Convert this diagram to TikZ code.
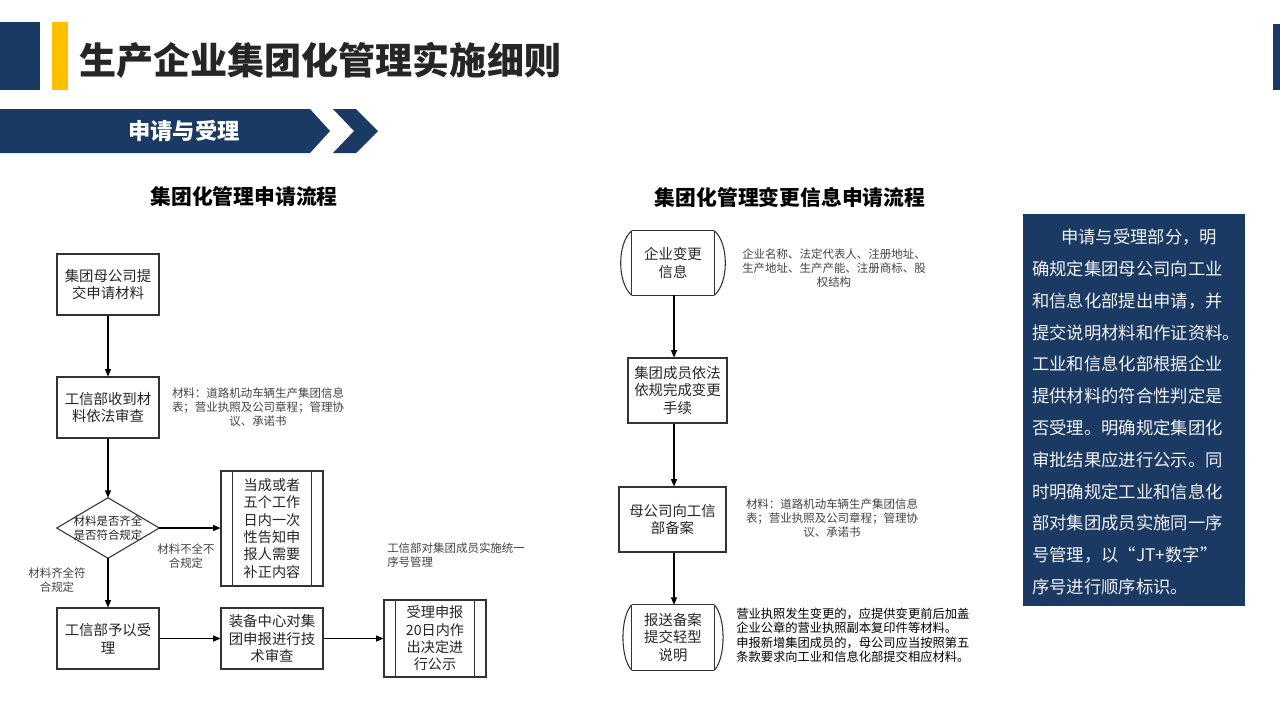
\documentclass[tikz,border=0pt]{standalone}
\usepackage{fontspec}
\setmainfont{Noto Sans CJK SC}
\usetikzlibrary{arrows.meta}
\definecolor{navy}{HTML}{1B3A63}
\definecolor{gold}{HTML}{FFC000}
\definecolor{ink}{HTML}{262626}
\definecolor{line}{HTML}{333333}
\definecolor{note}{HTML}{444444}
\definecolor{paneltx}{HTML}{F2F2F2}
\begin{document}
\begin{tikzpicture}[x=0.75pt,y=-0.75pt,
  box/.style={draw=line, line width=0.8pt, inner sep=0pt, align=center,
    font=\fontsize{10.8pt}{13.4pt}\selectfont, text=ink},
  plain/.style={inner sep=0pt, align=center, font=\fontsize{10.8pt}{13.4pt}\selectfont, text=ink},
  notetext/.style={inner sep=0pt, align=center, font=\fontsize{8.6pt}{10.6pt}\selectfont, text=note},
  paneltext/.style={inner sep=0pt, anchor=west, font=\fontsize{13pt}{14pt}\selectfont, text=paneltx},
  arr/.style={-{Triangle[length=5.5pt,width=4.5pt]}, line width=0.8pt, draw=black},
  inner/.style={draw=line, line width=0.8pt}
]
\useasboundingbox (0,0) rectangle (1280,719);
\fill[white] (0,0) rectangle (1280,719);

% header
\fill[navy] (0,22) rectangle (40,90);
\fill[gold] (52,22) rectangle (68,90);
\fill[navy] (1273,24) rectangle (1280,90);
\node[inner sep=0pt, anchor=west, text=ink, font=\fontsize{27.8pt}{30pt}\selectfont\bfseries] (title) at (79,60) {生产企业集团化管理实施细则};

% banner
\fill[navy] (0,109) -- (310,109) -- (330,131) -- (310,153) -- (0,153) -- cycle;
\fill[navy] (333,109) -- (356,109) -- (378,131) -- (356,153) -- (333,153) -- (354,131) -- cycle;
\node[inner sep=0pt, text=white, font=\fontsize{16.7pt}{18pt}\selectfont\bfseries] (banner) at (184,131) {申请与受理};

% subtitles
\node[inner sep=0pt, text=black, font=\fontsize{15.6pt}{18pt}\selectfont\bfseries] (sub1) at (244,197) {集团化管理申请流程};
\node[inner sep=0pt, text=black, font=\fontsize{15.6pt}{18pt}\selectfont\bfseries] (sub2) at (790,197) {集团化管理变更信息申请流程};

% ---------- left flowchart ----------
\node[box, minimum width=76.5pt, minimum height=45.75pt] (b1) at (108,284.5) {集团母公司提\\交申请材料};
\node[box, minimum width=76.5pt, minimum height=45.75pt] (b2) at (108,407.5) {工信部收到材\\料依法审查};
\node[plain, minimum width=76.5pt, minimum height=45pt, font=\fontsize{8.6pt}{11pt}\selectfont] (d) at (108,528) {材料是否齐全\\是否符合规定};
\draw[draw=line, line width=0.8pt] (d.north) -- (d.east) -- (d.south) -- (d.west) -- cycle;
\node[box, minimum width=76.5pt, minimum height=86.25pt, font=\fontsize{10.6pt}{13pt}\selectfont] (n5) at (272,528.5) {当成或者\\五个工作\\日内一次\\性告知申\\报人需要\\补正内容};
\draw[inner] ([xshift=9pt]n5.north west) -- ([xshift=9pt]n5.south west);
\draw[inner] ([xshift=-9pt]n5.north east) -- ([xshift=-9pt]n5.south east);
\node[box, minimum width=76.5pt, minimum height=45.75pt] (b3) at (108,638.5) {工信部予以受\\理};
\node[box, minimum width=76.5pt, minimum height=45.75pt] (b4) at (272,638.5) {装备中心对集\\团申报进行技\\术审查};
\node[box, minimum width=76.5pt, minimum height=57.75pt, font=\fontsize{10.6pt}{13pt}\selectfont] (b5) at (435,638.5) {受理申报\\20日内作\\出决定进\\行公示};
\draw[inner] ([xshift=9pt]b5.north west) -- ([xshift=9pt]b5.south west);
\draw[inner] ([xshift=-9pt]b5.north east) -- ([xshift=-9pt]b5.south east);

\draw[arr] (b1) -- (b2);
\draw[arr] (b2) -- (d.north);
\draw[arr] (d.east) -- (n5.west |- d.east);
\draw[arr] (d.south) -- (b3);
\draw[arr] (b3) -- (b4);
\draw[arr] (b4) -- (b5.west |- b4.east);

\node[notetext] (a1) at (258,407) {材料：道路机动车辆生产集团信息\\表；营业执照及公司章程；管理协\\议、承诺书};
\node[notetext] (a2) at (186,556) {材料不全不\\合规定};
\node[notetext] (a3) at (57,580) {材料齐全符\\合规定};
\node[notetext, align=left, anchor=west] (a4) at (387,555) {工信部对集团成员实施统一\\序号管理};

% ---------- right flowchart ----------
\node[plain, minimum width=61.5pt, minimum height=48pt] (r1) at (673,263) {企业变更\\信息};
\draw[draw=line, line width=0.8pt] (r1.north west) -- (r1.north east) (r1.south west) -- (r1.south east)
  (r1.north west) -- (r1.south west) (r1.north east) -- (r1.south east);
\draw[draw=line, line width=0.8pt] (r1.north west) .. controls (617,243) and (617,283) .. (r1.south west);
\draw[draw=line, line width=0.8pt] (r1.north east) .. controls (729,243) and (729,283) .. (r1.south east);

\node[box, minimum width=74.25pt, minimum height=48.75pt] (r2) at (677.5,390.5) {集团成员依法\\依规完成变更\\手续};
\node[box, minimum width=80.25pt, minimum height=48.75pt] (r3) at (672.5,519.5) {母公司向工信\\部备案};

\node[plain, minimum width=61.5pt, minimum height=48.75pt] (r4) at (673,637.5) {报送备案\\提交轻型\\说明};
\draw[draw=line, line width=0.8pt] (r4.north west) -- (r4.north east) (r4.south west) -- (r4.south east)
  (r4.north west) -- (r4.south west) (r4.north east) -- (r4.south east);
\draw[draw=line, line width=0.8pt] (r4.north west) .. controls (620,617) and (620,658) .. (r4.south west);
\draw[draw=line, line width=0.8pt] (r4.north east) .. controls (726,617) and (726,658) .. (r4.south east);

\draw[arr] ([xshift=0.75pt]r1.south) -- ([xshift=0.75pt]r1.south |- r2.north);
\draw[arr] ([xshift=0.75pt]r2.south -| r1.south) -- ([xshift=0.75pt]r1.south |- r3.north);
\draw[arr] ([xshift=0.75pt]r3.south -| r1.south) -- ([xshift=0.75pt]r4.north);

\node[notetext] (a5) at (834,268) {企业名称、法定代表人、注册地址、\\生产地址、生产产能、注册商标、股\\权结构};
\node[notetext] (a6) at (832,518) {材料：道路机动车辆生产集团信息\\表；营业执照及公司章程；管理协\\议、承诺书};
\node[inner sep=0pt, anchor=west, align=left, text=black, font=\fontsize{9.2pt}{10.9pt}\selectfont] (a7) at (736,635.5) {营业执照发生变更的，应提供变更前后加盖\\企业公章的营业执照副本复印件等材料。\\申报新增集团成员的，母公司应当按照第五\\条款要求向工业和信息化部提交相应材料。};

% ---------- panel ----------
\fill[navy] (1023,214) rectangle (1245,606);
\node[paneltext] (p1) at (1061,237) {申请与受理部分，明};
\foreach \t [count=\i from 2] in {确规定集团母公司向工业, 和信息化部提出申请，并, 提交说明材料和作证资料。, 工业和信息化部根据企业, 提供材料的符合性判定是, 否受理。明确规定集团化, 审批结果应进行公示。同, 时明确规定工业和信息化, 部对集团成员实施同一序, 号管理，以“JT+数字”, 序号进行顺序标识。}
  \node[paneltext] (p\i) at (1032,{237+31.8*(\i-1)}) {\t};
\end{tikzpicture}
\end{document}
